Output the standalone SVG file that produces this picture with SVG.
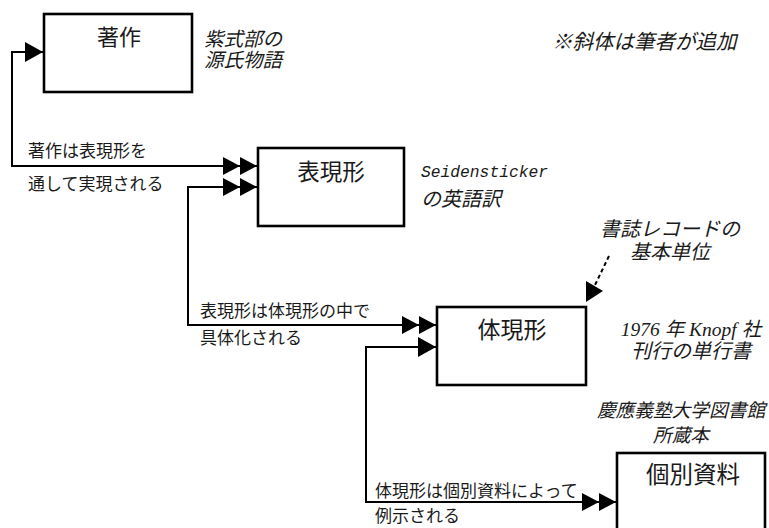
<svg xmlns="http://www.w3.org/2000/svg" width="769" height="528" viewBox="0 0 769 528">
<style>
.box{fill:#fff;stroke:#000;stroke-width:2.6}
.ln{fill:none;stroke:#000;stroke-width:2}
.t{font-family:"Noto Sans CJK JP","Noto Sans",sans-serif;fill:#1a1a1a}
.ti{font-family:"Liberation Serif","Noto Sans CJK JP",serif;font-style:italic;fill:#1a1a1a}
.tj{font-family:"Noto Sans CJK JP","Liberation Serif",sans-serif;font-style:italic;fill:#1a1a1a}
.tm{font-family:"Liberation Mono","Noto Sans CJK JP",monospace;font-style:italic;fill:#1a1a1a}
</style>
<defs>
<marker id="one" viewBox="0 0 18 20" refX="18" refY="10" markerWidth="18" markerHeight="20" markerUnits="userSpaceOnUse" orient="auto-start-reverse">
<path d="M0,0 L18,10 L0,20 Z" fill="#000"/>
</marker>
<marker id="two" viewBox="0 0 34 18" refX="34" refY="9" markerWidth="34" markerHeight="18" markerUnits="userSpaceOnUse" orient="auto-start-reverse">
<path d="M0,0 L17,9 L0,18 Z M17,0 L34,9 L17,18 Z" fill="#000"/>
</marker>
</defs>

<g id="node-chosaku">
<rect class="box" x="44" y="14" width="148" height="78"/>
<text class="t" x="119" y="45" font-size="22" text-anchor="middle">著作</text>
</g>
<g id="node-hyogenkei">
<rect class="box" x="258" y="148" width="146" height="78"/>
<text class="t" x="331" y="179.5" font-size="22.5" text-anchor="middle">表現形</text>
</g>
<g id="node-taigenkei">
<rect class="box" x="437" y="307" width="149" height="78"/>
<text class="t" x="512" y="338" font-size="23" text-anchor="middle">体現形</text>
</g>
<g id="node-kobetsu">
<rect class="box" x="617" y="453" width="148" height="100"/>
<text class="t" x="693" y="483" font-size="23.5" text-anchor="middle">個別資料</text>
</g>

<g id="connectors">
<path class="ln" d="M43,52 L12,52 L12,166 L257,166" marker-start="url(#one)" marker-end="url(#two)"/>
<path class="ln" d="M257,187 L188,187 L188,325 L436,325" marker-start="url(#two)" marker-end="url(#two)"/>
<path class="ln" d="M436,347 L366,347 L366,502 L616,502" marker-start="url(#one)" marker-end="url(#two)"/>
<line class="ln" x1="609" y1="256" x2="595" y2="285" stroke-dasharray="4,3"/>
<polygon points="586,302 586,281 603,291" fill="#000"/>
</g>

<g id="labels">
<text class="t" x="28" y="156.5" font-size="17">著作は表現形を</text>
<text class="t" x="28" y="189.5" font-size="17">通して実現される</text>
<text class="t" x="200" y="316.5" font-size="17">表現形は体現形の中で</text>
<text class="t" x="200" y="344" font-size="17">具体化される</text>
<text class="t" x="375" y="496.5" font-size="17">体現形は個別資料によって</text>
<text class="t" x="375" y="521.5" font-size="17">例示される</text>
</g>

<g id="notes">
<text class="tj" x="204" y="46" font-size="19.5">紫式部の</text>
<text class="tj" x="204" y="66.5" font-size="19.5">源氏物語</text>
<text class="tm" x="421" y="177" font-size="16.3">Seidensticker</text>
<text class="tj" x="421" y="205.6" font-size="20">の英語訳</text>
<text class="tj" x="552" y="49.3" font-size="20.5">※斜体は筆者が追加</text>
<text class="tj" x="670" y="236" font-size="20" text-anchor="middle">書誌レコードの</text>
<text class="tj" x="670" y="259" font-size="20" text-anchor="middle">基本単位</text>
<text class="ti" x="691" y="336" font-size="19.5" text-anchor="middle">1976 年 Knopf 社</text>
<text class="tj" x="691" y="358" font-size="20" text-anchor="middle">刊行の単行書</text>
<text class="tj" x="681" y="416.6" font-size="18.7" text-anchor="middle">慶應義塾大学図書館</text>
<text class="tj" x="681" y="442" font-size="18.7" text-anchor="middle">所蔵本</text>
</g>
</svg>
